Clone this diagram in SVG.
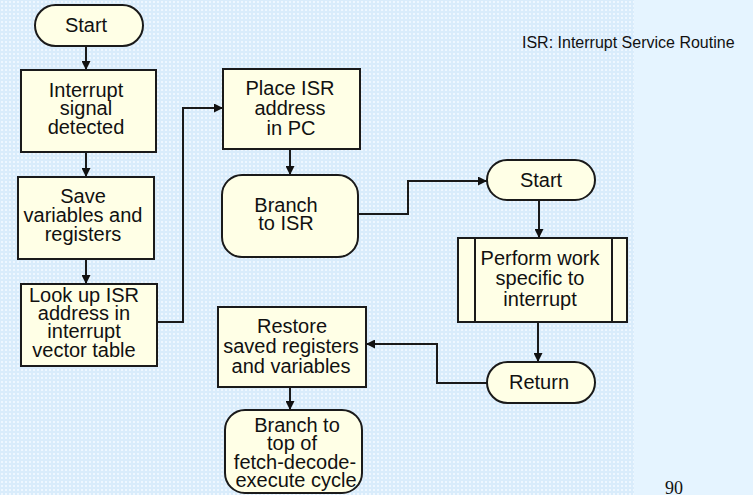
<svg xmlns="http://www.w3.org/2000/svg" width="753" height="495" viewBox="0 0 753 495">
  <defs>
    <pattern id="dots" x="0" y="0" width="4" height="4" patternUnits="userSpaceOnUse">
      <rect width="4" height="4" fill="#d9ecfb"/>
      <rect x="1" y="1" width="2" height="2" fill="#eef7ff"/>
    </pattern>
    <marker id="arrow" viewBox="0 0 10 10" refX="10" refY="5" markerWidth="9" markerHeight="9" markerUnits="userSpaceOnUse" orient="auto">
      <path d="M0,0 L10,5 L0,10 z" fill="#111"/>
    </marker>
    <style>
      .box { fill: #ffffe6; stroke: #1a1a1a; stroke-width: 2; }
      .lbl { font-family: "Liberation Sans", Arial, sans-serif; font-size: 20px; fill: #111; text-anchor: middle; }
      .wire { fill: none; stroke: #1a1a1a; stroke-width: 2; }
      .note { font-family: "Liberation Sans", Arial, sans-serif; font-size: 16px; fill: #111; }
      .page { font-family: "Liberation Serif", "Times New Roman", serif; font-size: 18px; fill: #111; }
    </style>
  </defs>

  <!-- background -->
  <rect width="753" height="495" fill="#e5f4ff"/>
  <rect width="634" height="495" fill="url(#dots)"/>

  <!-- connectors -->
  <g id="connectors">
    <path class="wire" d="M86,46 V70" marker-end="url(#arrow)"/>
    <path class="wire" d="M86,152 V177" marker-end="url(#arrow)"/>
    <path class="wire" d="M86,259 V284" marker-end="url(#arrow)"/>
    <path class="wire" d="M157,322 H183 V108 H223" marker-end="url(#arrow)"/>
    <path class="wire" d="M290,149 V175" marker-end="url(#arrow)"/>
    <path class="wire" d="M358,214 H408 V181 H487" marker-end="url(#arrow)"/>
    <path class="wire" d="M539,200 V238" marker-end="url(#arrow)"/>
    <path class="wire" d="M538,322 V362" marker-end="url(#arrow)"/>
    <path class="wire" d="M487,383 H437 V344 H366" marker-end="url(#arrow)"/>
    <path class="wire" d="M290,387 V410" marker-end="url(#arrow)"/>
  </g>

  <g id="start">
    <rect class="box" x="35" y="5" width="108" height="41" rx="20.5"/>
    <text class="lbl" x="86" y="32">Start</text>
  </g>

  <g id="interrupt-detected">
    <rect class="box" x="21" y="70" width="135" height="82"/>
    <text class="lbl" x="86" y="97">Interrupt</text>
    <text class="lbl" x="86" y="115">signal</text>
    <text class="lbl" x="86" y="134">detected</text>
  </g>

  <g id="save-variables">
    <rect class="box" x="18" y="177" width="136" height="82"/>
    <text class="lbl" x="83" y="203">Save</text>
    <text class="lbl" x="83" y="222">variables and</text>
    <text class="lbl" x="83" y="241">registers</text>
  </g>

  <g id="lookup-isr">
    <rect class="box" x="21" y="284" width="136" height="82"/>
    <text class="lbl" x="84" y="302">Look up ISR</text>
    <text class="lbl" x="84" y="320">address in</text>
    <text class="lbl" x="84" y="338">interrupt</text>
    <text class="lbl" x="84" y="357">vector table</text>
  </g>

  <g id="place-isr">
    <rect class="box" x="223" y="69" width="137" height="80"/>
    <text class="lbl" x="290" y="95">Place ISR</text>
    <text class="lbl" x="290" y="115">address</text>
    <text class="lbl" x="291" y="135">in PC</text>
  </g>

  <g id="branch-isr">
    <rect class="box" x="222" y="175" width="136" height="82" rx="20"/>
    <text class="lbl" x="286" y="212">Branch</text>
    <text class="lbl" x="286" y="230">to ISR</text>
  </g>

  <g id="isr-start">
    <rect class="box" x="487" y="160" width="108" height="40" rx="20"/>
    <text class="lbl" x="541" y="187">Start</text>
  </g>

  <g id="perform-work">
    <rect class="box" x="458" y="238" width="169" height="84"/>
    <line class="wire" x1="475" y1="238" x2="475" y2="322"/>
    <line class="wire" x1="612" y1="238" x2="612" y2="322"/>
    <text class="lbl" x="540" y="265">Perform work</text>
    <text class="lbl" x="540" y="285">specific to</text>
    <text class="lbl" x="540" y="306">interrupt</text>
  </g>

  <g id="return">
    <rect class="box" x="487" y="362" width="108" height="41" rx="20.5"/>
    <text class="lbl" x="539" y="389">Return</text>
  </g>

  <g id="restore">
    <rect class="box" x="218" y="307" width="148" height="80"/>
    <text class="lbl" x="292" y="333">Restore</text>
    <text class="lbl" x="291" y="353">saved registers</text>
    <text class="lbl" x="291" y="373">and variables</text>
  </g>

  <g id="branch-top">
    <rect class="box" x="225" y="410" width="137" height="83" rx="20"/>
    <text class="lbl" x="297" y="432">Branch to</text>
    <text class="lbl" x="292" y="450">top of</text>
    <text class="lbl" x="295" y="469">fetch-decode-</text>
    <text class="lbl" x="296" y="487">execute cycle</text>
  </g>

  <text class="note" x="522" y="48">ISR: Interrupt Service Routine</text>
  <text class="page" x="665" y="494">90</text>
</svg>
